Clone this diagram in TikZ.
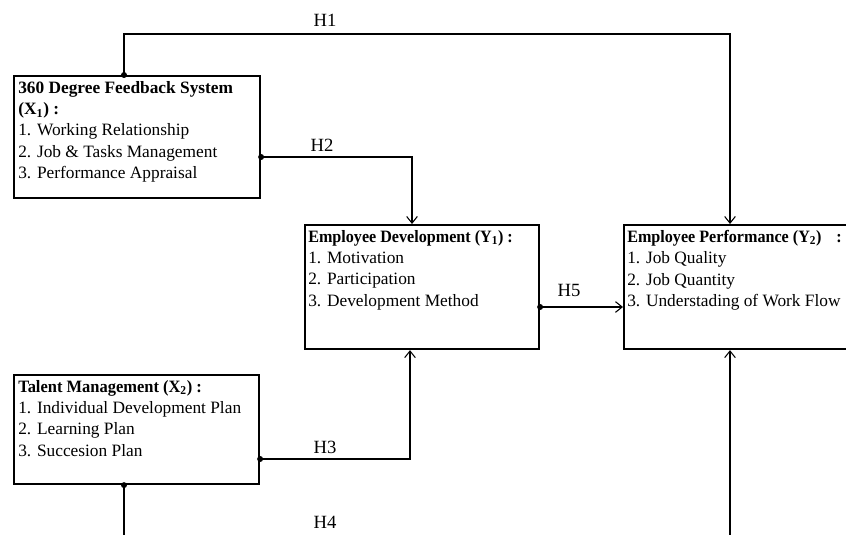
\documentclass[tikz,border=0pt]{standalone}
\usepackage{fontspec}
\setmainfont{Liberation Serif}
\usetikzlibrary{arrows.meta,calc,positioning}
\tikzset{
        box/.style = {draw, rectangle, line width=1.6pt, anchor=north west, inner sep=0pt},
        boxtext/.style = {anchor=north west, align=left, inner sep=0pt,
            font=\fontsize{13}{16}\selectfont},
        link/.style = {draw, line width=0.8pt, shorten <=-2.2pt,
            {Circle[length=4.4pt]}-{Straight Barb[length=5pt,width=8pt]}},
        hyp/.style = {inner sep=0pt, font=\fontsize{14}{16}\selectfont},
    }
% narrow bold heading
\newcommand{\boxtitle}[2][0.93]{\scalebox{#1}[1]{\textbf{#2}}}

\begin{document}
\begin{tikzpicture}[x=0.75pt,y=0.75pt,yscale=-1,xscale=1]
\useasboundingbox (0,0) rectangle (846,535);
\clip (0,0) rectangle (846,535);

% boxes
\node[box, minimum width=184.5pt, minimum height=91.5pt] (x1) at (13,75) {};
\node[box, minimum width=175.5pt, minimum height=93pt] (y1) at (304,224) {};
\node[box, minimum width=180pt, minimum height=93pt] (y2) at (623,224) {};
\node[box, minimum width=183.75pt, minimum height=81.75pt] (x2) at (13,374) {};

% box texts
\node[boxtext] (x1txt) at ($(x1.north west)+(5,6)$)
    {\boxtitle[1]{360 Degree Feedback System}\\\boxtitle[1]{(X\textsubscript{1}) :}\\
     1. Working Relationship\\2. Job \& Tasks Management\\3. Performance Appraisal};
\node[boxtext] (y1txt) at ($(y1.north west)+(4,6)$)
    {\boxtitle{Employee Development (Y\textsubscript{1}) :}\\1. Motivation\\
     2. Participation\\3. Development Method};
\node[boxtext] (y2txt) at ($(y2.north west)+(4,6)$)
    {\boxtitle{Employee Performance (Y\textsubscript{2})\hspace{12pt}:}\\1. Job Quality\\
     2. Job Quantity\\3. Understading of Work Flow};
\node[boxtext] (x2txt) at ($(x2.north west)+(5,6)$)
    {\boxtitle[0.95]{Talent Management (X\textsubscript{2}) :}\\1. Individual Development Plan\\
     2. Learning Plan\\3. Succesion Plan};

% hypotheses
\draw[link] ($(x1.north west)+(111,0)$) -- ++(0,-41) -| ($(y2.north west)+(107,0)$);
\draw[link] ($(x1.north east)+(0,82)$) -| ($(y1.north west)+(108,0)$);
\draw[link] ($(y1.north east)+(0,83)$) -- ($(y2.north west)+(0,83)$);
\draw[link] ($(x2.north east)+(0,85)$) -| ($(y1.south west)+(106,0)$);
\draw[link] ($(x2.south west)+(111,0)$) -- ++(0,90) -| ($(y2.south west)+(107,0)$);

\node[hyp] (h1) at (325,20) {H1};
\node[hyp] (h2) at (322,145) {H2};
\node[hyp] (h5) at (569,290) {H5};
\node[hyp] (h3) at (325,447) {H3};
\node[hyp] (h4) at (325,522) {H4};

\end{tikzpicture}
\end{document}
